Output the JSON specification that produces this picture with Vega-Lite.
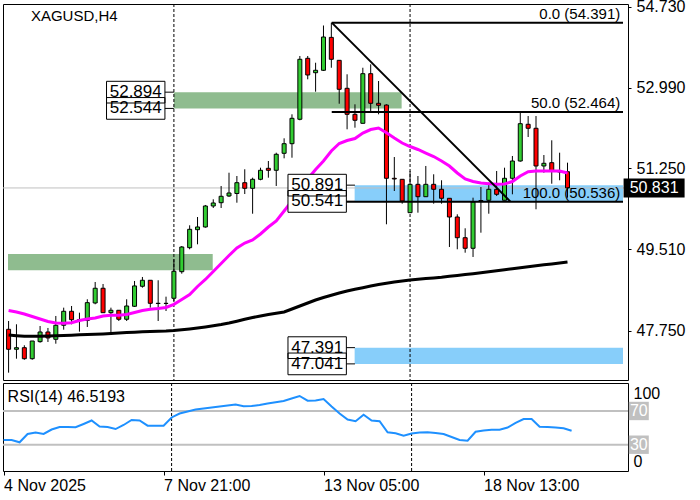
{
  "$schema": "https://vega.github.io/schema/vega-lite/v6.json",
  "padding": {"left": 1, "top": -2, "right": 0, "bottom": 0},
  "background": "white",
  "spacing": 3,
  "bounds": "flush",
  "config": {
    "view": {"stroke": "black", "strokeWidth": 1},
    "font": "Liberation Sans",
    "axis": {"labelFont": "Liberation Sans", "labelColor": "black", "tickColor": "black", "domain": false, "grid": false}
  },
  "datasets": {
    "candles": [
      {"k":0,"o":47.786,"h":47.965,"l":46.852,"c":47.356},
      {"k":1,"o":47.356,"h":47.894,"l":47.153,"c":47.39},
      {"k":2,"o":47.39,"h":47.442,"l":47.13,"c":47.153},
      {"k":3,"o":47.153,"h":47.534,"l":47.13,"c":47.534},
      {"k":4,"o":47.52,"h":47.857,"l":47.498,"c":47.728},
      {"k":5,"o":47.728,"h":47.815,"l":47.513,"c":47.6},
      {"k":6,"o":47.571,"h":48.073,"l":47.476,"c":47.873},
      {"k":7,"o":47.873,"h":48.252,"l":47.778,"c":48.174},
      {"k":8,"o":48.174,"h":48.288,"l":47.894,"c":47.993},
      {"k":9,"o":47.993,"h":48.144,"l":47.735,"c":47.98},
      {"k":10,"o":47.976,"h":48.433,"l":47.836,"c":48.36},
      {"k":11,"o":48.353,"h":48.805,"l":48.325,"c":48.67},
      {"k":12,"o":48.67,"h":48.762,"l":48.144,"c":48.144},
      {"k":13,"o":48.144,"h":48.252,"l":47.7,"c":48.196},
      {"k":14,"o":48.196,"h":48.2,"l":47.965,"c":48.002},
      {"k":15,"o":48.002,"h":48.433,"l":47.965,"c":48.288},
      {"k":16,"o":48.282,"h":48.827,"l":48.267,"c":48.72},
      {"k":17,"o":48.713,"h":48.913,"l":48.683,"c":48.842},
      {"k":18,"o":48.842,"h":48.842,"l":48.252,"c":48.346},
      {"k":19,"o":48.342,"h":48.842,"l":47.965,"c":48.346},
      {"k":20,"o":48.346,"h":48.489,"l":48.18,"c":48.342},
      {"k":21,"o":48.454,"h":49.294,"l":48.396,"c":49.036},
      {"k":22,"o":49.027,"h":49.58,"l":48.984,"c":49.559},
      {"k":23,"o":49.544,"h":50.026,"l":49.51,"c":49.94},
      {"k":24,"o":49.932,"h":50.205,"l":49.617,"c":49.99},
      {"k":25,"o":49.99,"h":50.464,"l":49.975,"c":50.442},
      {"k":26,"o":50.442,"h":50.586,"l":50.399,"c":50.507},
      {"k":27,"o":50.513,"h":50.873,"l":50.399,"c":50.651},
      {"k":28,"o":50.658,"h":51.159,"l":50.636,"c":50.722},
      {"k":29,"o":50.711,"h":51.088,"l":50.513,"c":50.944},
      {"k":30,"o":50.944,"h":51.233,"l":50.7,"c":50.823},
      {"k":31,"o":50.823,"h":51.052,"l":50.276,"c":51.017},
      {"k":32,"o":51.017,"h":51.267,"l":50.996,"c":51.211},
      {"k":33,"o":51.254,"h":51.411,"l":51.052,"c":51.211},
      {"k":34,"o":51.211,"h":51.59,"l":50.873,"c":51.556},
      {"k":35,"o":51.577,"h":51.9,"l":51.469,"c":51.784},
      {"k":36,"o":51.784,"h":52.417,"l":51.482,"c":52.331},
      {"k":37,"o":52.31,"h":53.673,"l":52.288,"c":53.602},
      {"k":38,"o":53.623,"h":53.673,"l":53.171,"c":53.264},
      {"k":39,"o":53.313,"h":53.528,"l":52.904,"c":53.365},
      {"k":40,"o":53.365,"h":54.33,"l":53.35,"c":54.082},
      {"k":41,"o":54.074,"h":54.391,"l":53.42,"c":53.602},
      {"k":42,"o":53.58,"h":53.58,"l":52.645,"c":52.956},
      {"k":43,"o":52.977,"h":53.279,"l":52.094,"c":52.417},
      {"k":44,"o":52.417,"h":52.632,"l":52.129,"c":52.288},
      {"k":45,"o":52.223,"h":53.42,"l":52.223,"c":53.292},
      {"k":46,"o":53.292,"h":53.494,"l":52.488,"c":52.654},
      {"k":47,"o":52.654,"h":53.134,"l":52.417,"c":52.611},
      {"k":48,"o":52.617,"h":52.632,"l":50.048,"c":51.039},
      {"k":49,"o":51.039,"h":51.497,"l":50.765,"c":51.024},
      {"k":50,"o":51.017,"h":51.017,"l":50.492,"c":50.55},
      {"k":51,"o":50.298,"h":51.196,"l":50.298,"c":50.909},
      {"k":52,"o":50.909,"h":51.088,"l":50.298,"c":50.642},
      {"k":53,"o":50.642,"h":51.304,"l":50.642,"c":50.909},
      {"k":54,"o":50.909,"h":51.125,"l":50.492,"c":50.802},
      {"k":55,"o":50.802,"h":50.996,"l":50.492,"c":50.608},
      {"k":56,"o":50.608,"h":50.608,"l":49.559,"c":50.205},
      {"k":57,"o":50.205,"h":50.263,"l":49.51,"c":49.759},
      {"k":58,"o":49.759,"h":49.962,"l":49.436,"c":49.531},
      {"k":59,"o":49.531,"h":50.621,"l":49.344,"c":50.528},
      {"k":60,"o":50.55,"h":50.851,"l":49.867,"c":50.56},
      {"k":61,"o":50.565,"h":50.944,"l":50.276,"c":50.802},
      {"k":62,"o":50.802,"h":51.196,"l":50.658,"c":50.694},
      {"k":63,"o":50.565,"h":51.267,"l":50.565,"c":51.039},
      {"k":64,"o":51.039,"h":51.519,"l":50.694,"c":51.411},
      {"k":65,"o":51.411,"h":52.452,"l":51.396,"c":52.215},
      {"k":66,"o":52.202,"h":52.38,"l":51.928,"c":52.116},
      {"k":67,"o":52.116,"h":52.38,"l":50.371,"c":51.304},
      {"k":68,"o":51.304,"h":51.54,"l":51.159,"c":51.362},
      {"k":69,"o":51.375,"h":51.857,"l":50.922,"c":51.196},
      {"k":70,"o":51.196,"h":51.59,"l":50.996,"c":51.174},
      {"k":71,"o":51.181,"h":51.375,"l":50.621,"c":50.831}
    ],
    "ma": [
      {"k":0,"fast":48.191,"slow":47.663},{"k":1,"fast":48.159,"slow":47.648},{"k":2,"fast":48.116,"slow":47.635},
      {"k":3,"fast":48.062,"slow":47.635},{"k":4,"fast":48.008,"slow":47.638},{"k":5,"fast":47.954,"slow":47.642},
      {"k":6,"fast":47.922,"slow":47.646},{"k":7,"fast":47.915,"slow":47.653},{"k":8,"fast":47.926,"slow":47.659},
      {"k":9,"fast":47.976,"slow":47.668},{"k":10,"fast":48.008,"slow":47.674},{"k":11,"fast":48.029,"slow":47.678},
      {"k":12,"fast":48.072,"slow":47.685},{"k":13,"fast":48.087,"slow":47.694},{"k":14,"fast":48.087,"slow":47.706},
      {"k":15,"fast":48.105,"slow":47.717},{"k":16,"fast":48.148,"slow":47.724},{"k":17,"fast":48.191,"slow":47.732},
      {"k":18,"fast":48.219,"slow":47.739},{"k":19,"fast":48.234,"slow":47.743},{"k":20,"fast":48.256,"slow":47.749},
      {"k":21,"fast":48.324,"slow":47.76},{"k":22,"fast":48.428,"slow":47.775},{"k":23,"fast":48.535,"slow":47.793},
      {"k":24,"fast":48.708,"slow":47.814},{"k":25,"fast":48.859,"slow":47.836},{"k":26,"fast":49.031,"slow":47.861},
      {"k":27,"fast":49.203,"slow":47.889},{"k":28,"fast":49.376,"slow":47.922},{"k":29,"fast":49.537,"slow":47.96},
      {"k":30,"fast":49.645,"slow":48.001},{"k":31,"fast":49.709,"slow":48.04},{"k":32,"fast":49.839,"slow":48.072},
      {"k":33,"fast":49.989,"slow":48.105},{"k":34,"fast":50.118,"slow":48.133},{"k":35,"fast":50.334,"slow":48.159},
      {"k":36,"fast":50.549,"slow":48.223},{"k":37,"fast":50.776,"slow":48.288},{"k":38,"fast":51.023,"slow":48.353},
      {"k":39,"fast":51.228,"slow":48.417},{"k":40,"fast":51.411,"slow":48.471},{"k":41,"fast":51.626,"slow":48.518},
      {"k":42,"fast":51.788,"slow":48.568},{"k":43,"fast":51.852,"slow":48.611},{"k":44,"fast":51.896,"slow":48.648},
      {"k":45,"fast":52.014,"slow":48.682},{"k":46,"fast":52.089,"slow":48.719},{"k":47,"fast":52.122,"slow":48.751},
      {"k":48,"fast":52.021,"slow":48.777},{"k":49,"fast":51.906,"slow":48.805},{"k":50,"fast":51.799,"slow":48.826},
      {"k":51,"fast":51.723,"slow":48.848},{"k":52,"fast":51.659,"slow":48.863},{"k":53,"fast":51.583,"slow":48.878},
      {"k":54,"fast":51.508,"slow":48.893},{"k":55,"fast":51.411,"slow":48.908},{"k":56,"fast":51.303,"slow":48.928},
      {"k":57,"fast":51.153,"slow":48.945},{"k":58,"fast":51.023,"slow":48.964},{"k":59,"fast":50.969,"slow":48.984},
      {"k":60,"fast":50.937,"slow":49.005},{"k":61,"fast":50.922,"slow":49.027},{"k":62,"fast":50.909,"slow":49.046},
      {"k":63,"fast":50.915,"slow":49.068},{"k":64,"fast":50.969,"slow":49.089},{"k":65,"fast":51.088,"slow":49.111},
      {"k":66,"fast":51.18,"slow":49.134},{"k":67,"fast":51.196,"slow":49.156},{"k":68,"fast":51.196,"slow":49.175},
      {"k":69,"fast":51.196,"slow":49.195},{"k":70,"fast":51.196,"slow":49.214},{"k":71,"fast":51.152,"slow":49.236}
    ],
    "rsi": [
      {"k":0,"rsi":35.6},{"k":1,"rsi":35.6},{"k":2,"rsi":32.9},{"k":3,"rsi":42.7},{"k":4,"rsi":44.5},{"k":5,"rsi":42.7},
      {"k":6,"rsi":48.0},{"k":7,"rsi":51.0},{"k":8,"rsi":51.0},{"k":9,"rsi":50.7},{"k":10,"rsi":54.6},{"k":11,"rsi":58.7},
      {"k":12,"rsi":51.6},{"k":13,"rsi":51.0},{"k":14,"rsi":48.6},{"k":15,"rsi":53.4},{"k":16,"rsi":59.3},{"k":17,"rsi":58.7},
      {"k":18,"rsi":52.6},{"k":19,"rsi":52.6},{"k":20,"rsi":52.6},{"k":21,"rsi":62.3},{"k":22,"rsi":67.0},{"k":23,"rsi":69.4},
      {"k":24,"rsi":71.8},{"k":25,"rsi":73.0},{"k":26,"rsi":74.1},{"k":27,"rsi":75.3},{"k":28,"rsi":76.5},{"k":29,"rsi":77.7},
      {"k":30,"rsi":75.6},{"k":31,"rsi":75.9},{"k":32,"rsi":77.1},{"k":33,"rsi":78.9},{"k":34,"rsi":80.3},{"k":35,"rsi":81.9},
      {"k":36,"rsi":84.8},{"k":37,"rsi":87.8},{"k":38,"rsi":82.2},{"k":39,"rsi":82.4},{"k":40,"rsi":84.2},{"k":41,"rsi":75.3},
      {"k":42,"rsi":67.0},{"k":43,"rsi":59.9},{"k":44,"rsi":57.8},{"k":45,"rsi":65.6},{"k":46,"rsi":58.7},{"k":47,"rsi":57.8},
      {"k":48,"rsi":44.7},{"k":49,"rsi":43.5},{"k":50,"rsi":40.7},{"k":51,"rsi":43.3},{"k":52,"rsi":44.5},{"k":53,"rsi":44.7},
      {"k":54,"rsi":43.9},{"k":55,"rsi":42.7},{"k":56,"rsi":39.1},{"k":57,"rsi":35.6},{"k":58,"rsi":34.8},{"k":59,"rsi":45.4},
      {"k":60,"rsi":46.9},{"k":61,"rsi":47.8},{"k":62,"rsi":47.8},{"k":63,"rsi":50.4},{"k":64,"rsi":55.8},{"k":65,"rsi":60.5},
      {"k":66,"rsi":60.5},{"k":67,"rsi":51.4},{"k":68,"rsi":51.0},{"k":69,"rsi":50.4},{"k":70,"rsi":49.5},{"k":71,"rsi":46.5193}
    ],
    "zones": [
      {"start":-0.075,"end":25.93,"low":49.06,"high":49.41,"zone":"green"},
      {"start":21,"end":49.93,"low":52.544,"high":52.894,"zone":"green"},
      {"start":43.96,"end":78.05,"low":50.541,"high":50.891,"zone":"blue"},
      {"start":43.96,"end":78.05,"low":47.041,"high":47.391,"zone":"blue"}
    ],
    "labels": [
      {"price":52.894,"center":16.15,"start":21},
      {"price":52.544,"center":16.15,"start":21},
      {"price":50.891,"center":39.2,"start":44},
      {"price":50.541,"center":39.2,"start":44},
      {"price":47.391,"center":39.2,"start":44},
      {"price":47.041,"center":39.2,"start":44}
    ],
    "fib": [
      {"level":"0.0","price":54.391,"label":"0.0 (54.391)"},
      {"level":"50.0","price":52.464,"label":"50.0 (52.464)"},
      {"level":"100.0","price":50.536,"label":"100.0 (50.536)"}
    ],
    "trend": [{"k":41.05,"price":54.391},{"k":63.75,"price":50.536}],
    "separators": [{"k":21},{"k":51}],
    "bid": [{"price":50.831}],
    "levels": [{"rsi":70},{"rsi":30}]
  },
  "vconcat": [
    {
      "width": 625,
      "height": 376,
      "layer": [
        {
          "data": {"name": "zones"},
          "mark": {"type": "rect", "clip": true},
          "encoding": {
            "x": {"field": "start", "type": "quantitative", "scale": {"domain": [-0.075, 78.05], "nice": false, "zero": false}, "axis": null},
            "x2": {"field": "end"},
            "y": {"field": "low", "type": "quantitative", "scale": {"domain": [46.694, 54.793], "nice": false, "zero": false}, "axis": {"orient": "right", "values": [47.75, 49.51, 51.25, 52.99, 54.73], "format": ".3f", "title": null, "labelFontSize": 16, "tickSize": 3, "labelPadding": 5, "labelFlush": false, "labelOverlap": false}},
            "y2": {"field": "high"},
            "color": {"field": "zone", "type": "nominal", "scale": {"domain": ["green", "blue"], "range": ["#8FBC8F", "#87CEFA"]}, "legend": null}
          }
        },
        {
          "data": {"name": "bid"},
          "mark": {"type": "rule", "color": "#C0C0C0", "strokeWidth": 1},
          "encoding": {
            "y": {"field": "price", "type": "quantitative", "scale": {"domain": [46.694, 54.793], "nice": false, "zero": false}, "axis": {"orient": "right", "values": [47.75, 49.51, 51.25, 52.99, 54.73], "format": ".3f", "title": null, "labelFontSize": 16, "tickSize": 3, "labelPadding": 5, "labelFlush": false, "labelOverlap": false}}
          }
        },
        {
          "data": {"name": "separators"},
          "mark": {"type": "rule", "color": "black", "strokeWidth": 1, "strokeDash": [3, 2]},
          "encoding": {
            "x": {"field": "k", "type": "quantitative", "scale": {"domain": [-0.075, 78.05], "nice": false, "zero": false}, "axis": null}
          }
        },
        {
          "data": {"name": "candles"},
          "mark": {"type": "rule", "color": "black", "strokeWidth": 1, "clip": true},
          "encoding": {
            "x": {"field": "k", "type": "quantitative", "scale": {"domain": [-0.075, 78.05], "nice": false, "zero": false}, "axis": null},
            "y": {"field": "l", "type": "quantitative", "scale": {"domain": [46.694, 54.793], "nice": false, "zero": false}, "axis": {"orient": "right", "values": [47.75, 49.51, 51.25, 52.99, 54.73], "format": ".3f", "title": null, "labelFontSize": 16, "tickSize": 3, "labelPadding": 5, "labelFlush": false, "labelOverlap": false}},
            "y2": {"field": "h"}
          }
        },
        {
          "data": {"name": "candles"},
          "mark": {"type": "bar", "width": 4, "stroke": "black", "strokeWidth": 1, "clip": true},
          "encoding": {
            "x": {"field": "k", "type": "quantitative", "scale": {"domain": [-0.075, 78.05], "nice": false, "zero": false}, "axis": null},
            "y": {"field": "o", "type": "quantitative", "scale": {"domain": [46.694, 54.793], "nice": false, "zero": false}, "axis": {"orient": "right", "values": [47.75, 49.51, 51.25, 52.99, 54.73], "format": ".3f", "title": null, "labelFontSize": 16, "tickSize": 3, "labelPadding": 5, "labelFlush": false, "labelOverlap": false}},
            "y2": {"field": "c"},
            "color": {"condition": {"test": "datum.c >= datum.o", "value": "#32CD32"}, "value": "#FF0000"}
          }
        },
        {
          "data": {"name": "ma"},
          "mark": {"type": "line", "color": "black", "strokeWidth": 3, "clip": true},
          "encoding": {
            "x": {"field": "k", "type": "quantitative", "scale": {"domain": [-0.075, 78.05], "nice": false, "zero": false}, "axis": null},
            "y": {"field": "slow", "type": "quantitative", "scale": {"domain": [46.694, 54.793], "nice": false, "zero": false}, "axis": {"orient": "right", "values": [47.75, 49.51, 51.25, 52.99, 54.73], "format": ".3f", "title": null, "labelFontSize": 16, "tickSize": 3, "labelPadding": 5, "labelFlush": false, "labelOverlap": false}}
          }
        },
        {
          "data": {"name": "ma"},
          "mark": {"type": "line", "color": "#FF00FF", "strokeWidth": 3, "clip": true},
          "encoding": {
            "x": {"field": "k", "type": "quantitative", "scale": {"domain": [-0.075, 78.05], "nice": false, "zero": false}, "axis": null},
            "y": {"field": "fast", "type": "quantitative", "scale": {"domain": [46.694, 54.793], "nice": false, "zero": false}, "axis": {"orient": "right", "values": [47.75, 49.51, 51.25, 52.99, 54.73], "format": ".3f", "title": null, "labelFontSize": 16, "tickSize": 3, "labelPadding": 5, "labelFlush": false, "labelOverlap": false}}
          }
        },
        {
          "data": {"name": "trend"},
          "mark": {"type": "line", "color": "black", "strokeWidth": 2},
          "encoding": {
            "x": {"field": "k", "type": "quantitative", "scale": {"domain": [-0.075, 78.05], "nice": false, "zero": false}, "axis": null},
            "y": {"field": "price", "type": "quantitative", "scale": {"domain": [46.694, 54.793], "nice": false, "zero": false}, "axis": {"orient": "right", "values": [47.75, 49.51, 51.25, 52.99, 54.73], "format": ".3f", "title": null, "labelFontSize": 16, "tickSize": 3, "labelPadding": 5, "labelFlush": false, "labelOverlap": false}}
          }
        },
        {
          "data": {"name": "fib"},
          "mark": {"type": "rule", "color": "black", "strokeWidth": 2},
          "encoding": {
            "x": {"datum": 41.05, "type": "quantitative", "scale": {"domain": [-0.075, 78.05], "nice": false, "zero": false}, "axis": null},
            "x2": {"datum": 78.05},
            "y": {"field": "price", "type": "quantitative", "scale": {"domain": [46.694, 54.793], "nice": false, "zero": false}, "axis": {"orient": "right", "values": [47.75, 49.51, 51.25, 52.99, 54.73], "format": ".3f", "title": null, "labelFontSize": 16, "tickSize": 3, "labelPadding": 5, "labelFlush": false, "labelOverlap": false}}
          }
        },
        {
          "data": {"name": "fib"},
          "mark": {"type": "text", "align": "right", "baseline": "alphabetic", "dy": -4, "fontSize": 15, "color": "black"},
          "encoding": {
            "x": {"datum": 77.7, "type": "quantitative", "scale": {"domain": [-0.075, 78.05], "nice": false, "zero": false}, "axis": null},
            "y": {"field": "price", "type": "quantitative", "scale": {"domain": [46.694, 54.793], "nice": false, "zero": false}, "axis": {"orient": "right", "values": [47.75, 49.51, 51.25, 52.99, 54.73], "format": ".3f", "title": null, "labelFontSize": 16, "tickSize": 3, "labelPadding": 5, "labelFlush": false, "labelOverlap": false}},
            "text": {"field": "label"}
          }
        },
        {
          "data": {"name": "labels"},
          "mark": {"type": "rule", "color": "black", "strokeWidth": 1},
          "encoding": {
            "x": {"field": "center", "type": "quantitative", "scale": {"domain": [-0.075, 78.05], "nice": false, "zero": false}, "axis": null},
            "x2": {"field": "start"},
            "y": {"field": "price", "type": "quantitative", "scale": {"domain": [46.694, 54.793], "nice": false, "zero": false}, "axis": {"orient": "right", "values": [47.75, 49.51, 51.25, 52.99, 54.73], "format": ".3f", "title": null, "labelFontSize": 16, "tickSize": 3, "labelPadding": 5, "labelFlush": false, "labelOverlap": false}}
          }
        },
        {
          "data": {"name": "labels"},
          "mark": {"type": "point", "shape": "M-1,-0.3716H1V0.3716H-1Z", "size": 3411, "filled": true, "color": "white", "opacity": 1},
          "encoding": {
            "x": {"field": "center", "type": "quantitative", "scale": {"domain": [-0.075, 78.05], "nice": false, "zero": false}, "axis": null},
            "y": {"field": "price", "type": "quantitative", "scale": {"domain": [46.694, 54.793], "nice": false, "zero": false}, "axis": {"orient": "right", "values": [47.75, 49.51, 51.25, 52.99, 54.73], "format": ".3f", "title": null, "labelFontSize": 16, "tickSize": 3, "labelPadding": 5, "labelFlush": false, "labelOverlap": false}}
          }
        },
        {
          "data": {"name": "labels"},
          "mark": {"type": "point", "shape": "M-1,-0.3716H1V0.3716H-1Z", "size": 3411, "filled": false, "color": "black", "strokeWidth": 1, "opacity": 1},
          "encoding": {
            "x": {"field": "center", "type": "quantitative", "scale": {"domain": [-0.075, 78.05], "nice": false, "zero": false}, "axis": null},
            "y": {"field": "price", "type": "quantitative", "scale": {"domain": [46.694, 54.793], "nice": false, "zero": false}, "axis": {"orient": "right", "values": [47.75, 49.51, 51.25, 52.99, 54.73], "format": ".3f", "title": null, "labelFontSize": 16, "tickSize": 3, "labelPadding": 5, "labelFlush": false, "labelOverlap": false}}
          }
        },
        {
          "data": {"name": "labels"},
          "mark": {"type": "text", "align": "center", "baseline": "middle", "fontSize": 17, "color": "black"},
          "encoding": {
            "x": {"field": "center", "type": "quantitative", "scale": {"domain": [-0.075, 78.05], "nice": false, "zero": false}, "axis": null},
            "y": {"field": "price", "type": "quantitative", "scale": {"domain": [46.694, 54.793], "nice": false, "zero": false}, "axis": {"orient": "right", "values": [47.75, 49.51, 51.25, 52.99, 54.73], "format": ".3f", "title": null, "labelFontSize": 16, "tickSize": 3, "labelPadding": 5, "labelFlush": false, "labelOverlap": false}},
            "text": {"field": "price", "type": "quantitative", "format": ".3f"}
          }
        },
        {
          "data": {"name": "bid"},
          "mark": {"type": "point", "shape": "M-1,-0.3115H1V0.3115H-1Z", "size": 3721, "filled": true, "color": "black", "opacity": 1, "clip": false},
          "encoding": {
            "x": {"datum": 82, "type": "quantitative", "scale": {"domain": [-0.075, 78.05], "nice": false, "zero": false}, "axis": null},
            "y": {"field": "price", "type": "quantitative", "scale": {"domain": [46.694, 54.793], "nice": false, "zero": false}, "axis": {"orient": "right", "values": [47.75, 49.51, 51.25, 52.99, 54.73], "format": ".3f", "title": null, "labelFontSize": 16, "tickSize": 3, "labelPadding": 5, "labelFlush": false, "labelOverlap": false}}
          }
        },
        {
          "data": {"name": "bid"},
          "mark": {"type": "text", "align": "center", "baseline": "middle", "fontSize": 16, "color": "white", "clip": false},
          "encoding": {
            "x": {"datum": 82, "type": "quantitative", "scale": {"domain": [-0.075, 78.05], "nice": false, "zero": false}, "axis": null},
            "y": {"field": "price", "type": "quantitative", "scale": {"domain": [46.694, 54.793], "nice": false, "zero": false}, "axis": {"orient": "right", "values": [47.75, 49.51, 51.25, 52.99, 54.73], "format": ".3f", "title": null, "labelFontSize": 16, "tickSize": 3, "labelPadding": 5, "labelFlush": false, "labelOverlap": false}},
            "text": {"field": "price", "type": "quantitative", "format": ".3f"}
          }
        },
        {
          "data": {"values": [{"label": "XAGUSD,H4"}]},
          "mark": {"type": "text", "align": "left", "baseline": "middle", "fontSize": 15, "color": "black"},
          "encoding": {
            "x": {"datum": 2.84, "type": "quantitative", "scale": {"domain": [-0.075, 78.05], "nice": false, "zero": false}, "axis": null},
            "y": {"datum": 54.534, "type": "quantitative", "scale": {"domain": [46.694, 54.793], "nice": false, "zero": false}, "axis": {"orient": "right", "values": [47.75, 49.51, 51.25, 52.99, 54.73], "format": ".3f", "title": null, "labelFontSize": 16, "tickSize": 3, "labelPadding": 5, "labelFlush": false, "labelOverlap": false}},
            "text": {"field": "label"}
          }
        }
      ]
    },
    {
      "width": 625,
      "height": 88,
      "layer": [
        {
          "data": {"name": "levels"},
          "mark": {"type": "rule", "color": "#C0C0C0", "strokeWidth": 2},
          "encoding": {
            "y": {"field": "rsi", "type": "quantitative", "scale": {"domain": [-1.2, 103.2], "nice": false, "zero": false}, "axis": {"orient": "right", "values": [0, 100], "labelBaseline": {"condition": {"test": "datum.value == 100", "value": "top"}, "value": "bottom"}, "ticks": false, "labelPadding": 5, "labelFontSize": 16, "title": null, "labelFlush": false, "labelOverlap": false}}
          }
        },
        {
          "data": {"name": "separators"},
          "mark": {"type": "rule", "color": "black", "strokeWidth": 1, "strokeDash": [3, 2]},
          "encoding": {
            "x": {"field": "k", "type": "quantitative", "scale": {"domain": [-0.075, 78.05], "nice": false, "zero": false}, "axis": {"values": [0, 20, 40, 60], "labelExpr": "datum.value == 0 ? '4 Nov 2025' : datum.value == 20 ? '7 Nov 21:00' : datum.value == 40 ? '13 Nov 05:00' : '18 Nov 13:00'", "labelAlign": "left", "labelFontSize": 16, "tickSize": 4, "labelPadding": 2, "title": null, "labelFlush": false, "labelOverlap": false}}
          }
        },
        {
          "data": {"name": "rsi"},
          "mark": {"type": "line", "color": "#1E90FF", "strokeWidth": 2, "clip": true},
          "encoding": {
            "x": {"field": "k", "type": "quantitative", "scale": {"domain": [-0.075, 78.05], "nice": false, "zero": false}, "axis": {"values": [0, 20, 40, 60], "labelExpr": "datum.value == 0 ? '4 Nov 2025' : datum.value == 20 ? '7 Nov 21:00' : datum.value == 40 ? '13 Nov 05:00' : '18 Nov 13:00'", "labelAlign": "left", "labelFontSize": 16, "tickSize": 4, "labelPadding": 2, "title": null, "labelFlush": false, "labelOverlap": false}},
            "y": {"field": "rsi", "type": "quantitative", "scale": {"domain": [-1.2, 103.2], "nice": false, "zero": false}, "axis": {"orient": "right", "values": [0, 100], "labelBaseline": {"condition": {"test": "datum.value == 100", "value": "top"}, "value": "bottom"}, "ticks": false, "labelPadding": 5, "labelFontSize": 16, "title": null, "labelFlush": false, "labelOverlap": false}}
          }
        },
        {
          "data": {"name": "levels"},
          "mark": {"type": "point", "shape": "M-1,-0.92H1V0.92H-1Z", "size": 400, "filled": true, "color": "#C0C0C0", "opacity": 1, "clip": false},
          "encoding": {
            "x": {"datum": 79.4, "type": "quantitative", "scale": {"domain": [-0.075, 78.05], "nice": false, "zero": false}, "axis": {"values": [0, 20, 40, 60], "labelExpr": "datum.value == 0 ? '4 Nov 2025' : datum.value == 20 ? '7 Nov 21:00' : datum.value == 40 ? '13 Nov 05:00' : '18 Nov 13:00'", "labelAlign": "left", "labelFontSize": 16, "tickSize": 4, "labelPadding": 2, "title": null, "labelFlush": false, "labelOverlap": false}},
            "y": {"field": "rsi", "type": "quantitative", "scale": {"domain": [-1.2, 103.2], "nice": false, "zero": false}, "axis": {"orient": "right", "values": [0, 100], "labelBaseline": {"condition": {"test": "datum.value == 100", "value": "top"}, "value": "bottom"}, "ticks": false, "labelPadding": 5, "labelFontSize": 16, "title": null, "labelFlush": false, "labelOverlap": false}}
          }
        },
        {
          "data": {"name": "levels"},
          "mark": {"type": "text", "align": "center", "baseline": "middle", "fontSize": 16, "color": "white", "clip": false},
          "encoding": {
            "x": {"datum": 79.4, "type": "quantitative", "scale": {"domain": [-0.075, 78.05], "nice": false, "zero": false}, "axis": {"values": [0, 20, 40, 60], "labelExpr": "datum.value == 0 ? '4 Nov 2025' : datum.value == 20 ? '7 Nov 21:00' : datum.value == 40 ? '13 Nov 05:00' : '18 Nov 13:00'", "labelAlign": "left", "labelFontSize": 16, "tickSize": 4, "labelPadding": 2, "title": null, "labelFlush": false, "labelOverlap": false}},
            "y": {"field": "rsi", "type": "quantitative", "scale": {"domain": [-1.2, 103.2], "nice": false, "zero": false}, "axis": {"orient": "right", "values": [0, 100], "labelBaseline": {"condition": {"test": "datum.value == 100", "value": "top"}, "value": "bottom"}, "ticks": false, "labelPadding": 5, "labelFontSize": 16, "title": null, "labelFlush": false, "labelOverlap": false}},
            "text": {"field": "rsi", "type": "quantitative"}
          }
        },
        {
          "data": {"values": [{"label": "RSI(14) 46.5193"}]},
          "mark": {"type": "text", "align": "left", "baseline": "middle", "fontSize": 16, "color": "black"},
          "encoding": {
            "x": {"datum": 0.5, "type": "quantitative", "scale": {"domain": [-0.075, 78.05], "nice": false, "zero": false}, "axis": {"values": [0, 20, 40, 60], "labelExpr": "datum.value == 0 ? '4 Nov 2025' : datum.value == 20 ? '7 Nov 21:00' : datum.value == 40 ? '13 Nov 05:00' : '18 Nov 13:00'", "labelAlign": "left", "labelFontSize": 16, "tickSize": 4, "labelPadding": 2, "title": null, "labelFlush": false, "labelOverlap": false}},
            "y": {"datum": 86.2, "type": "quantitative", "scale": {"domain": [-1.2, 103.2], "nice": false, "zero": false}, "axis": {"orient": "right", "values": [0, 100], "labelBaseline": {"condition": {"test": "datum.value == 100", "value": "top"}, "value": "bottom"}, "ticks": false, "labelPadding": 5, "labelFontSize": 16, "title": null, "labelFlush": false, "labelOverlap": false}},
            "text": {"field": "label"}
          }
        }
      ]
    }
  ]
}
